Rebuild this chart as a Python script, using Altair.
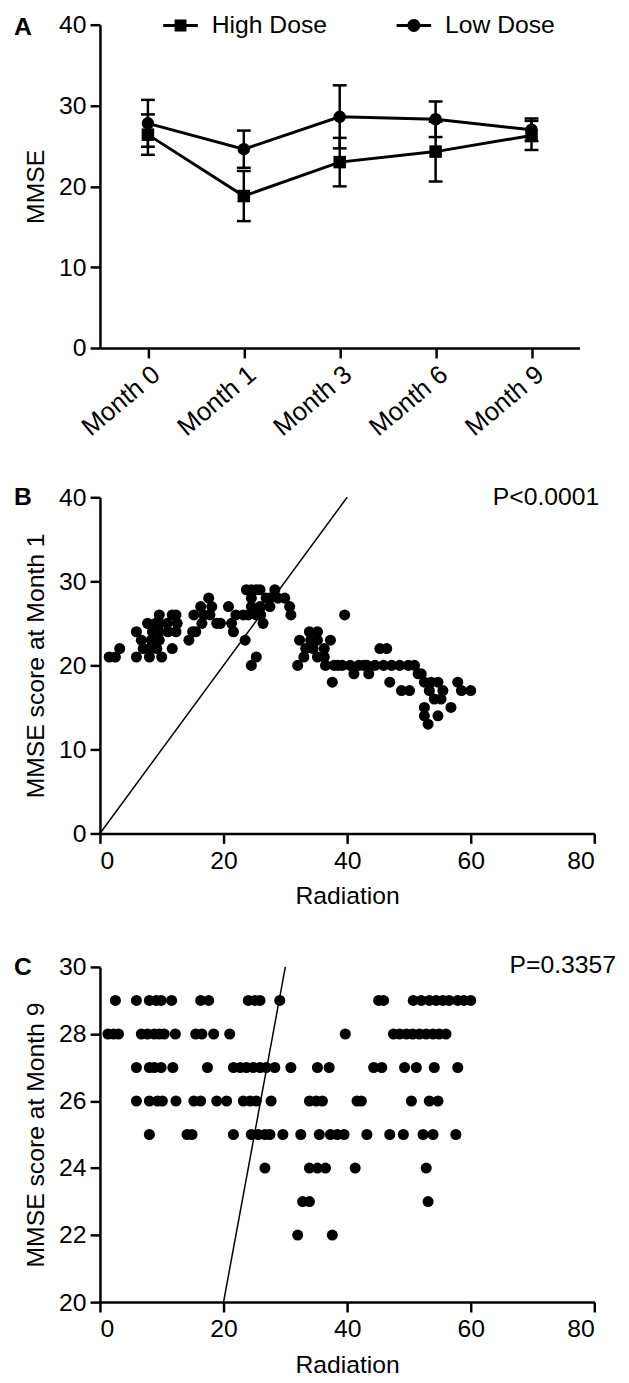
import altair as alt
import pandas as pd

FONT = "Liberation Sans"
FS = 25

# ---------------- Panel A data ----------------
months = ["Month 0", "Month 1", "Month 3", "Month 6", "Month 9"]
groups = ["High Dose", "Low Dose"]
high_mean = [26.4, 18.8, 23.0, 24.3, 26.3]
high_err = [2.5, 3.1, 3.0, 3.7, 1.8]
low_mean = [27.8, 24.6, 28.6, 28.3, 27.0]
low_err = [2.9, 2.3, 3.9, 2.2, 1.4]

# ---------------- Panel B data ----------------
b_x = [1.5, 2.5, 3.2, 5.9, 5.9, 6.7, 7.0, 7.7, 8.0, 8.0, 8.3, 8.5, 9.0, 9.6, 9.6,
       9.6, 9.6, 9.2, 10.0, 10.9, 11.0, 11.7, 11.7, 12.3, 12.3, 12.5, 14.4, 15.0,
       15.2, 15.5, 16.3, 16.5, 16.8, 17.6, 17.8, 18.1, 18.9, 19.5, 20.8, 21.3,
       21.6, 22.0, 23.2, 23.5, 23.7, 24.5, 25.3, 25.9, 24.5, 24.5, 24.0, 25.9,
       25.3, 26.4, 26.9, 27.5, 27.5, 28.3, 28.8, 29.9, 30.7, 30.9, 24.5, 25.3,
       26.0, 32.0, 32.3, 33.0, 33.3, 33.9, 34.1, 34.5, 35.2, 35.2, 35.2, 36.3,
       36.3, 37.3, 36.5, 37.9, 37.6, 39.2, 39.6, 40.5, 41.1, 41.9, 43.2, 43.5,
       44.5, 45.3, 46.4, 45.9, 46.9, 47.2, 48.5, 48.8, 49.9, 50.1, 50.9, 52.0,
       52.5, 52.5, 52.5, 53.1, 53.3, 53.6, 54.1, 54.7, 54.7, 55.2, 55.5, 56.8,
       57.9, 58.5, 60.0, 38.5, 42.7, 51.5]
b_y = [21, 21, 22, 21, 24, 23, 22, 25, 21, 22, 23, 24, 25, 26, 25,
       24, 23, 22, 21, 25, 24, 22, 26, 26, 24, 25, 23, 24,
       26, 24, 27, 25, 26, 28, 26, 27, 25, 25, 27, 25,
       24, 26, 26, 23, 29, 29, 29, 29, 28, 27, 26, 27,
       26, 25, 28, 28, 27, 29, 28, 28, 27, 26, 20, 21,
       26, 20, 23, 21, 22, 24, 23, 22, 24, 23, 21, 22,
       21, 23, 20, 20, 18, 20, 26, 20, 19, 20, 20, 19,
       20, 22, 22, 20, 18, 20, 20, 17, 20, 17, 20, 19,
       18, 15, 14, 13, 17, 18, 16, 18, 14, 16, 17, 15,
       18, 17, 17, 20, 20, 19]

# ---------------- Panel C data (x values per MMSE row) ----------------
c_row29 = [2.5, 5.9, 8.0, 9.1, 9.9, 11.6, 16.3, 17.6, 24.0, 25.1, 25.9, 29.1,
           45.1, 45.9, 50.7, 52.0, 53.3, 54.4, 55.5, 56.5, 57.9, 58.9, 60.0]
c_row28 = [1.3, 2.2, 3.0, 6.7, 7.7, 8.8, 9.6, 10.4, 12.2, 15.5, 16.5, 18.4, 21.0,
           39.7, 47.5, 48.5, 49.6, 50.6, 51.7, 52.8, 53.9, 54.9, 56.0]
c_row27 = [5.9, 8.0, 8.8, 9.9, 11.8, 17.4, 21.6, 22.7, 23.7, 24.8, 25.9, 26.9,
           28.3, 30.9, 35.2, 37.1, 44.3, 45.6, 49.3, 51.2, 54.1, 57.9]
c_row26 = [5.9, 8.0, 9.3, 10.1, 12.3, 15.2, 16.3, 18.9, 20.5, 23.2, 24.3, 25.3,
           27.7, 33.9, 35.0, 36.0, 41.6, 42.3, 50.4, 53.3, 54.7]
c_row25 = [8.0, 14.1, 14.9, 21.6, 24.5, 25.6, 26.7, 27.5, 29.6, 32.5, 35.5, 37.3,
           38.4, 39.5, 43.2, 46.9, 49.1, 52.3, 53.9, 57.6]
c_row24 = [26.7, 33.9, 35.2, 36.5, 41.3, 52.8]
c_row23 = [32.8, 33.9, 53.1]
c_row22 = [32.0, 37.6]
c_rows = {29: c_row29, 28: c_row28, 27: c_row27, 26: c_row26,
          25: c_row25, 24: c_row24, 23: c_row23, 22: c_row22}

# reference lines
b_line_x = [0, 40]
b_line_y = [0, 40]
c_line_x = [20, 30]
c_line_y = [20, 30]

# ---------------- tables ----------------
dfA = pd.DataFrame({
    "month": months * 2,
    "group": [groups[0]] * len(months) + [groups[1]] * len(months),
    "mean": high_mean + low_mean,
    "err": high_err + low_err,
})
dfA["lo"] = dfA["mean"] - dfA["err"]
dfA["hi"] = dfA["mean"] + dfA["err"]

dfB = pd.DataFrame({"x": b_x, "y": b_y})
c_x, c_y = [], []
for yv, xs in c_rows.items():
    c_x += xs
    c_y += [yv] * len(xs)
dfC = pd.DataFrame({"x": c_x, "y": c_y})
dfBL = pd.DataFrame({"x": b_line_x, "y": b_line_y})
dfCL = pd.DataFrame({"x": c_line_x, "y": c_line_y})

LETTER_X = -78

# ---------------- Panel A ----------------
xA = alt.X("month:N", sort=months, scale=alt.Scale(type="point", padding=0.5),
           axis=alt.Axis(title=None, labelAngle=-40, labelPadding=3, labelFontSize=26))
yA = alt.Y("mean:Q", scale=alt.Scale(domain=[0, 40]),
           axis=alt.Axis(title="MMSE", values=[0, 10, 20, 30, 40]))

baseA = alt.Chart(dfA)
linesA = baseA.mark_line(color="black", strokeWidth=3).encode(x=xA, y=yA, detail="group:N")
rulesA = baseA.mark_rule(color="black", strokeWidth=2.5).encode(
    x=xA, y=alt.Y("lo:Q"), y2="hi:Q")
capLoA = baseA.mark_tick(color="black", thickness=2.5, size=14, opacity=1).encode(x=xA, y="lo:Q")
capHiA = baseA.mark_tick(color="black", thickness=2.5, size=14, opacity=1).encode(x=xA, y="hi:Q")
pointsA = baseA.mark_point(filled=True, color="black", opacity=1, size=160).encode(
    x=xA, y=yA,
    shape=alt.Shape("group:N", scale=alt.Scale(domain=groups, range=["square", "circle"]),
                    legend=None))

# legend glyphs: line with marker (unit = 7px at symbolSize 196)
HIGH_PATH = ("M-2.5,-0.214L-0.7,-0.214L-0.7,0.214L-2.5,0.214Z"
             "M0.7,-0.214L2.5,-0.214L2.5,0.214L0.7,0.214Z"
             "M-0.86,-0.86L0.86,-0.86L0.86,0.86L-0.86,0.86Z")
LOW_PATH = ("M-2.5,-0.214L-0.7,-0.214L-0.7,0.214L-2.5,0.214Z"
            "M0.7,-0.214L2.5,-0.214L2.5,0.214L0.7,0.214Z"
            "M-0.93,0A0.93,0.93,0,1,1,0.93,0A0.93,0.93,0,1,1,-0.93,0Z")

legendA = baseA.transform_filter("false").mark_point(
    filled=True, color="black", opacity=1).encode(
    x=xA, y=yA,
    shape=alt.Shape("group:N",
                    scale=alt.Scale(domain=groups, range=[HIGH_PATH, LOW_PATH]),
                    legend=alt.Legend(title=None, orient="none", legendX=69, legendY=-12,
                                      direction="horizontal", symbolSize=196,
                                      symbolFillColor="black", symbolStrokeColor="black",
                                      symbolStrokeWidth=0, symbolOpacity=1,
                                      labelFont=FONT, labelFontSize=FS, labelColor="black",
                                      labelOffset=19, columnPadding=70, padding=0)))

letterA = alt.Chart(pd.DataFrame({"t": ["A"]})).mark_text(
    font=FONT, fontSize=25, fontWeight="bold", color="black", align="center",
    baseline="middle").encode(text="t:N", x=alt.value(LETTER_X), y=alt.value(2))

panelA = alt.layer(linesA, rulesA, capLoA, capHiA, pointsA, legendA, letterA).resolve_scale(
    shape="independent").properties(width=485, height=327)

# ---------------- Panel B ----------------
xB = alt.X("x:Q", scale=alt.Scale(domain=[0, 80]),
           axis=alt.Axis(title="Radiation", values=[0, 20, 40, 60, 80],
                         labelPadding=5, titlePadding=11))
yB = alt.Y("y:Q", scale=alt.Scale(domain=[0, 40]),
           axis=alt.Axis(title="MMSE score at Month 1", values=[0, 10, 20, 30, 40]))
scatterB = alt.Chart(dfB).mark_circle(color="black", opacity=1, size=125).encode(x=xB, y=yB)
lineB = alt.Chart(dfBL).mark_line(color="black", strokeWidth=1.5).encode(x=xB, y=yB)
letterB = alt.Chart(pd.DataFrame({"t": ["B"]})).mark_text(
    font=FONT, fontSize=25, fontWeight="bold", color="black", align="center",
    baseline="middle").encode(text="t:N", x=alt.value(LETTER_X), y=alt.value(0))
pB = alt.Chart(pd.DataFrame({"t": ["P<0.0001"]})).mark_text(
    font=FONT, fontSize=FS, color="black", align="right", baseline="middle").encode(
    text="t:N", x=alt.value(505), y=alt.value(0))
panelB = alt.layer(scatterB, lineB, letterB, pB).properties(width=500, height=340)

# ---------------- Panel C ----------------
xC = alt.X("x:Q", scale=alt.Scale(domain=[0, 80]),
           axis=alt.Axis(title="Radiation", values=[0, 20, 40, 60, 80],
                         labelPadding=5, titlePadding=11))
yC = alt.Y("y:Q", scale=alt.Scale(domain=[20, 30]),
           axis=alt.Axis(title="MMSE score at Month 9", values=[20, 22, 24, 26, 28, 30]))
scatterC = alt.Chart(dfC).mark_circle(color="black", opacity=1, size=125).encode(x=xC, y=yC)
lineC = alt.Chart(dfCL).mark_line(color="black", strokeWidth=1.5).encode(x=xC, y=yC)
letterC = alt.Chart(pd.DataFrame({"t": ["C"]})).mark_text(
    font=FONT, fontSize=25, fontWeight="bold", color="black", align="center",
    baseline="middle").encode(text="t:N", x=alt.value(LETTER_X), y=alt.value(0))
pC = alt.Chart(pd.DataFrame({"t": ["P=0.3357"]})).mark_text(
    font=FONT, fontSize=FS, color="black", align="right", baseline="middle").encode(
    text="t:N", x=alt.value(522), y=alt.value(-2))
panelC = alt.layer(scatterC, lineC, letterC, pC).properties(width=500, height=339)

chart = alt.vconcat(panelA, panelB, panelC, spacing=45).properties(
    padding={"left": 5, "top": -3, "right": 5, "bottom": 5}
).configure(font=FONT).configure_view(stroke=None).configure_axis(
    domainColor="black", domainWidth=2.5, tickColor="black", tickWidth=2.5, tickSize=10,
    labelColor="black", titleColor="black", labelFont=FONT, titleFont=FONT,
    labelFontSize=FS, titleFontSize=FS, titleFontWeight="normal", grid=False,
    labelPadding=4, titlePadding=10
)

chart.save("out.html", embed_options={"renderer": "svg", "actions": False})
